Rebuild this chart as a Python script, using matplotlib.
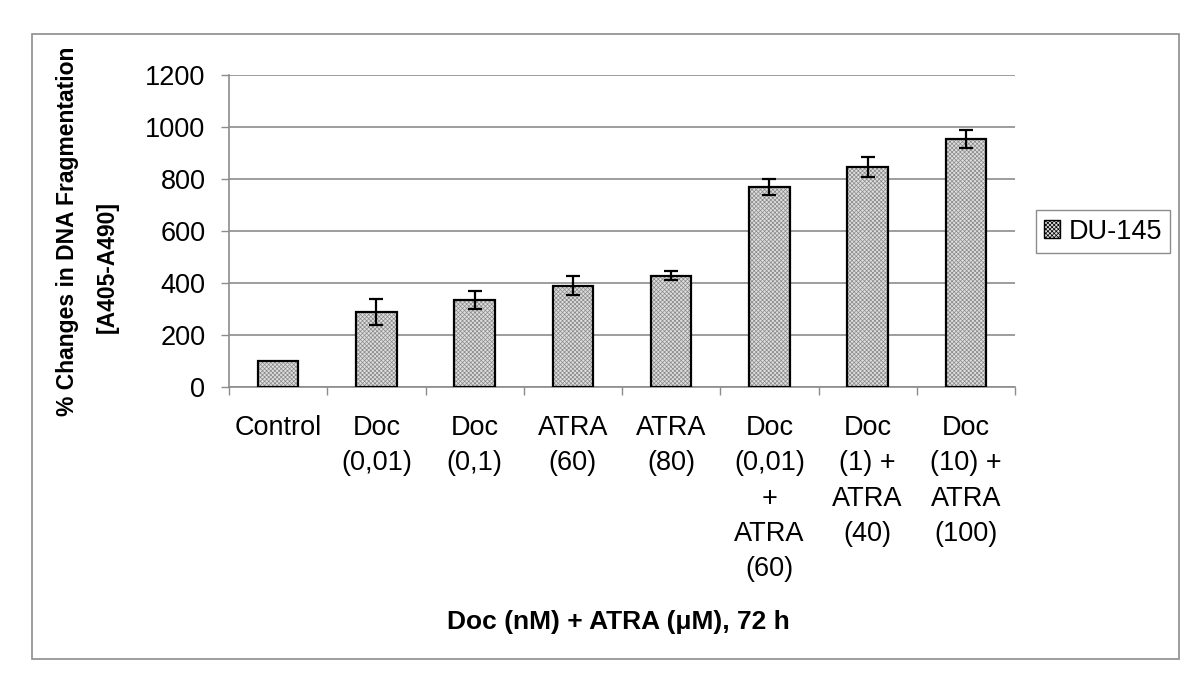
import matplotlib
matplotlib.use("Agg")
import matplotlib.pyplot as plt
from matplotlib.patches import Rectangle
import numpy as np

categories = ["Control", "Doc\n(0,01)", "Doc\n(0,1)", "ATRA\n(60)", "ATRA\n(80)",
              "Doc\n(0,01)\n+\nATRA\n(60)", "Doc\n(1) +\nATRA\n(40)", "Doc\n(10) +\nATRA\n(100)"]
values = [100, 290, 335, 390, 428, 770, 846, 953]
errors = [0, 50, 35, 38, 17, 30, 40, 34]
series_name = "DU-145"
y_ticks = [0, 200, 400, 600, 800, 1000, 1200]

plt.rcParams['font.family'] = ['Liberation Sans', 'DejaVu Sans']
plt.rcParams['hatch.linewidth'] = 0.5

W, H = 1200, 691
fig = plt.figure(figsize=(12, 6.91), dpi=100)
ax = fig.add_axes([229 / W, 1 - 387 / H, (1015 - 229) / W, (387 - 75) / H])

x = np.arange(len(categories))
bw = 0.41
# hatched fill
ax.bar(x, values, width=bw, color='#dedede', edgecolor='#8a8a8a', hatch='xxxxxxxx',
       linewidth=0, zorder=3, label=series_name)
# outline
ax.bar(x, values, width=bw, fill=False, edgecolor='black', linewidth=1.6, zorder=4)
err_x = [xi for xi, e in zip(x, errors) if e > 0]
err_y = [v for v, e in zip(values, errors) if e > 0]
err_e = [e for e in errors if e > 0]
ax.errorbar(err_x, err_y, yerr=err_e, fmt='none', ecolor='black', elinewidth=1.6,
            capsize=4.8, capthick=1.6, zorder=5)

ax.set_xlim(-0.5, len(categories) - 0.5)
ax.set_ylim(0, 1200)
ax.set_yticks(y_ticks)
ax.set_yticklabels([str(t) for t in y_ticks], fontsize=19.5)
ax.yaxis.grid(True, color='#8c8c8c', linewidth=1.2, zorder=0)
ax.set_axisbelow(True)

ax.set_xticks(np.arange(len(categories) + 1) - 0.5)
ax.set_xticklabels([])
ax.set_xticks(x, minor=True)
ax.set_xticklabels(categories, minor=True, fontsize=19.5, linespacing=1.47, va='top')
ax.tick_params(axis='x', which='major', direction='out', length=6, width=1, color='#8c8c8c')
ax.tick_params(axis='x', which='minor', length=0, pad=20)
ax.tick_params(axis='y', direction='out', length=6, width=1, color='#8c8c8c', pad=11)

for s in ['top', 'right']:
    ax.spines[s].set_visible(False)
for s in ['left', 'bottom']:
    ax.spines[s].set_color('#8c8c8c')
    ax.spines[s].set_linewidth(1.2)

# axis titles
fig.text(68 / W, 1 - 231 / H, "% Changes in DNA Fragmentation", rotation=90,
         ha='center', va='center', fontsize=16.5, fontweight='bold')
fig.text(107 / W, 1 - 267 / H, "[A405-A490]", rotation=90,
         ha='center', va='center', fontsize=16.5, fontweight='bold')
fig.text(618 / W, 1 - 622 / H, "Doc (nM) + ATRA (μM), 72 h",
         ha='center', va='center', fontsize=19, fontweight='bold')

# legend
handles, labels = ax.get_legend_handles_labels()
leg = fig.legend(handles[:1], labels[:1], loc='center',
                 bbox_to_anchor=(1103 / W, 1 - 231.5 / H), fontsize=19.5,
                 fancybox=False, framealpha=1, edgecolor='#8c8c8c',
                 handlelength=0.6, handleheight=0.6, handletextpad=0.3,
                 borderpad=0.3, borderaxespad=0)
leg.get_frame().set_linewidth(1)
for p in leg.get_patches():
    p.set_edgecolor('black')
    p.set_linewidth(1)

# outer frame
fig.patches.append(Rectangle((32 / W, 1 - 659 / H), (1179 - 32) / W, (659 - 34) / H,
                             transform=fig.transFigure, fill=False,
                             edgecolor='#8c8c8c', linewidth=1.2))

fig.savefig("out.png", dpi=100)
